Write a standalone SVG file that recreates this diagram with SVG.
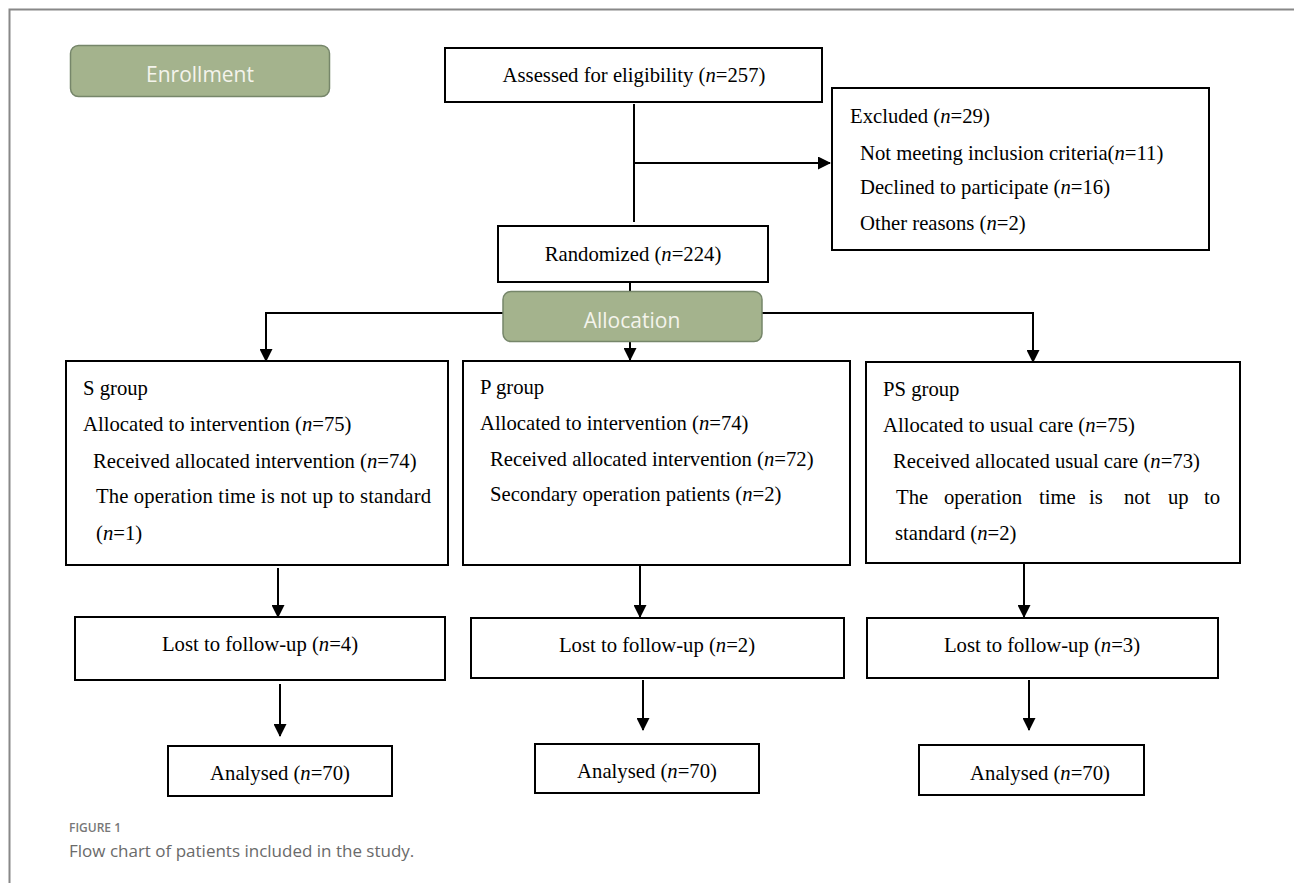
<svg xmlns="http://www.w3.org/2000/svg" width="1294" height="883" viewBox="0 0 1294 883">
<defs>
<marker id="ah" markerWidth="13" markerHeight="13" refX="12" refY="6.5" orient="auto" markerUnits="userSpaceOnUse">
<path d="M0,0 L13,6.5 L0,13 Z" fill="#000"/>
</marker>
<style>
.box{fill:#fff;stroke:#000;stroke-width:2}
.pill{fill:#a4b38d;stroke:#76866a;stroke-width:1.5}
.t{font-family:"Liberation Serif","Times New Roman",serif;font-size:20.7px;fill:#000}
.c{text-anchor:middle}
.pt{font-family:"Open Sans","Noto Sans",sans-serif;font-size:21px;fill:#f4f4ec;text-anchor:middle}
.ln{stroke:#000;stroke-width:2;fill:none}
.ar{stroke:#000;stroke-width:2;fill:none;marker-end:url(#ah)}
.cap1{font-family:"Open Sans","Noto Sans",sans-serif;font-size:12px;fill:#777;font-weight:600}
.cap2{font-family:"Open Sans","Noto Sans",sans-serif;font-size:17px;fill:#6a6a6a}
</style>
</defs>
<rect width="1294" height="883" fill="#fff"/>
<path d="M9.5,883 L9.5,9.5 L1294,9.5" fill="none" stroke="#888" stroke-width="2"/>

<g id="connectors">
<line class="ln" x1="634" y1="104" x2="634" y2="222"/>
<line class="ar" x1="634" y1="163" x2="830" y2="163"/>
<line class="ln" x1="630" y1="282" x2="630" y2="291"/>
<line class="ln" x1="266" y1="313" x2="503" y2="313"/>
<line class="ln" x1="762" y1="313" x2="1033" y2="313"/>
<line class="ar" x1="266" y1="312" x2="266" y2="361"/>
<line class="ar" x1="1033" y1="312" x2="1033" y2="362"/>
<line class="ar" x1="630" y1="342" x2="630" y2="360"/>
<line class="ar" x1="278" y1="568" x2="278" y2="617"/>
<line class="ar" x1="280" y1="684" x2="280" y2="736"/>
<line class="ar" x1="640" y1="565" x2="640" y2="617"/>
<line class="ar" x1="643" y1="680" x2="643" y2="730"/>
<line class="ar" x1="1024" y1="563" x2="1024" y2="617"/>
<line class="ar" x1="1029" y1="680" x2="1029" y2="730"/>
</g>

<g id="enrollment">
<rect class="pill" x="70.5" y="45.5" width="259" height="51" rx="8"/>
<text class="pt" x="200" y="82">Enrollment</text>
</g>

<g id="assessed">
<rect class="box" x="445" y="48" width="377" height="54"/>
<text class="t c" x="634" y="82">Assessed for eligibility (<tspan font-style="italic">n</tspan>=257)</text>
</g>

<g id="excluded">
<rect class="box" x="832" y="88" width="377" height="162"/>
<text class="t" x="850" y="123">Excluded (<tspan font-style="italic">n</tspan>=29)</text>
<text class="t" x="860" y="160">Not meeting inclusion criteria(<tspan font-style="italic">n</tspan>=11)</text>
<text class="t" x="860" y="194">Declined to participate (<tspan font-style="italic">n</tspan>=16)</text>
<text class="t" x="860" y="230">Other reasons (<tspan font-style="italic">n</tspan>=2)</text>
</g>

<g id="randomized">
<rect class="box" x="498" y="226" width="270" height="56"/>
<text class="t c" x="633" y="261">Randomized (<tspan font-style="italic">n</tspan>=224)</text>
</g>

<g id="allocation">
<rect class="pill" x="503" y="291.5" width="259" height="50" rx="8"/>
<text class="pt" x="632" y="328">Allocation</text>
</g>

<g id="s-group">
<rect class="box" x="66" y="361" width="382" height="204"/>
<text class="t" x="83" y="395">S group</text>
<text class="t" x="83" y="431">Allocated to intervention (<tspan font-style="italic">n</tspan>=75)</text>
<text class="t" x="93" y="468">Received allocated intervention (<tspan font-style="italic">n</tspan>=74)</text>
<text class="t" x="96" y="503" textLength="335" lengthAdjust="spacing">The operation time is not up to standard</text>
<text class="t" x="96" y="540">(<tspan font-style="italic">n</tspan>=1)</text>
</g>

<g id="p-group">
<rect class="box" x="463" y="361" width="387" height="204"/>
<text class="t" x="480" y="394">P group</text>
<text class="t" x="480" y="430">Allocated to intervention (<tspan font-style="italic">n</tspan>=74)</text>
<text class="t" x="490" y="466">Received allocated intervention (<tspan font-style="italic">n</tspan>=72)</text>
<text class="t" x="490" y="501">Secondary operation patients (<tspan font-style="italic">n</tspan>=2)</text>
</g>

<g id="ps-group">
<rect class="box" x="866" y="362" width="374" height="201"/>
<text class="t" x="883" y="396">PS group</text>
<text class="t" x="883" y="432">Allocated to usual care (<tspan font-style="italic">n</tspan>=75)</text>
<text class="t" x="893" y="468">Received allocated usual care (<tspan font-style="italic">n</tspan>=73)</text>
<text class="t" y="504"><tspan x="896">The</tspan><tspan x="944">operation</tspan><tspan x="1039">time</tspan><tspan x="1089">is</tspan><tspan x="1124">not</tspan><tspan x="1168">up</tspan><tspan x="1204">to</tspan></text>
<text class="t" x="895" y="540">standard (<tspan font-style="italic">n</tspan>=2)</text>
</g>

<g id="s-lost">
<rect class="box" x="75" y="617" width="370" height="63"/>
<text class="t c" x="260" y="651">Lost to follow-up (<tspan font-style="italic">n</tspan>=4)</text>
</g>
<g id="p-lost">
<rect class="box" x="471" y="618" width="373" height="60"/>
<text class="t c" x="657" y="652">Lost to follow-up (<tspan font-style="italic">n</tspan>=2)</text>
</g>
<g id="ps-lost">
<rect class="box" x="867" y="618" width="351" height="60"/>
<text class="t c" x="1042" y="652">Lost to follow-up (<tspan font-style="italic">n</tspan>=3)</text>
</g>

<g id="s-analysed">
<rect class="box" x="168" y="746" width="224" height="50"/>
<text class="t c" x="280" y="780">Analysed (<tspan font-style="italic">n</tspan>=70)</text>
</g>
<g id="p-analysed">
<rect class="box" x="535" y="744" width="224" height="49"/>
<text class="t c" x="647" y="778">Analysed (<tspan font-style="italic">n</tspan>=70)</text>
</g>
<g id="ps-analysed">
<rect class="box" x="919" y="745" width="225" height="50"/>
<text class="t c" x="1040" y="780">Analysed (<tspan font-style="italic">n</tspan>=70)</text>
</g>

<g id="caption">
<text class="cap1" x="69" y="832">FIGURE 1</text>
<text class="cap2" x="69" y="857">Flow chart of patients included in the study.</text>
</g>
</svg>
